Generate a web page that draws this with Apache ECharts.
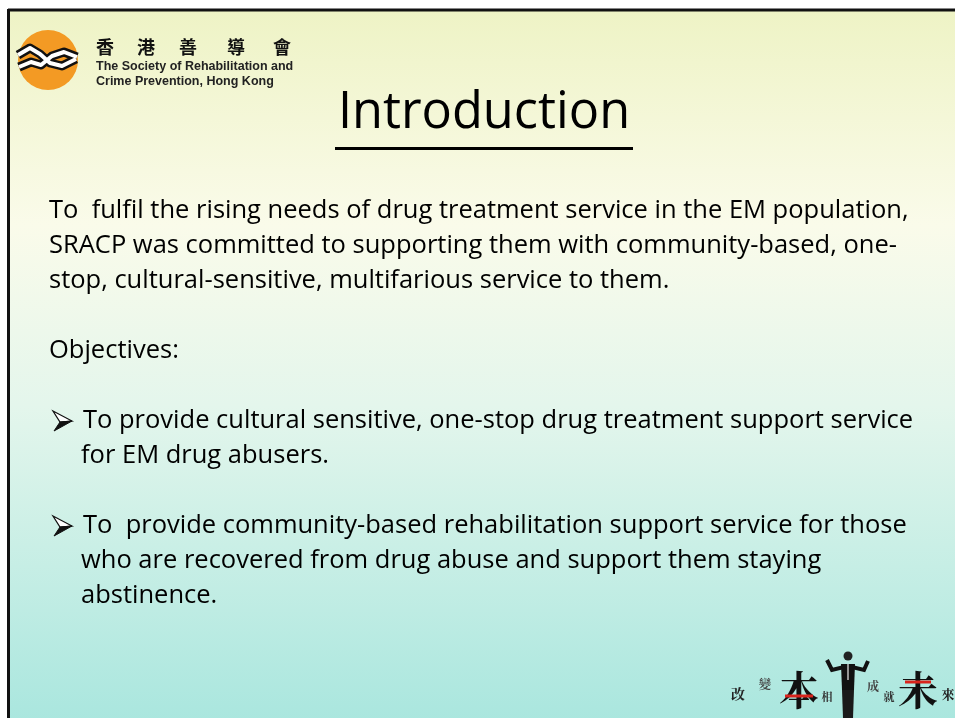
<!DOCTYPE html>
<html><head><meta charset="utf-8">
<script src="https://cdn.jsdelivr.net/npm/echarts@6/dist/echarts.min.js"></script>
<style>html,body{margin:0;padding:0;background:#fff}#c{width:955px;height:718px}</style>
</head><body><div id="c"></div>
<script>
var titleText = 'Introduction';
var orgNameZh = ['香', '港', '善', '導', '會'];
var orgNameEn = ['The Society of Rehabilitation and', 'Crime Prevention, Hong Kong'];
var introLines = [
  'To  fulfil the rising needs of drug treatment service in the EM population,',
  'SRACP was committed to supporting them with community-based, one-',
  'stop, cultural-sensitive, multifarious service to them.'
];
var objectivesLabel = 'Objectives:';
var bullet1Lines = ['To provide cultural sensitive, one-stop drug treatment support service', 'for EM drug abusers.'];
var bullet2Lines = ['To  provide community-based rehabilitation support service for those', 'who are recovered from drug abuse and support them staying', 'abstinence.'];
var sloganChars = ['改', '變', '本', '相', '成', '就', '未', '來'];

var chart = echarts.init(document.getElementById('c'), null, {renderer: 'canvas'});
var FONT = '"Open Sans", Lato, sans-serif';
var BODY = '25.5px ' + FONT;
var LH = 35;
var g = [];

// background slide
g.push({type: 'rect', shape: {x: 9, y: 9, width: 960, height: 720}, style: {
  fill: new echarts.graphic.LinearGradient(0, 0, 0, 1, [
    {offset: 0, color: '#eef3c5'}, {offset: 0.3, color: '#fafbea'},
    {offset: 0.55, color: '#e4f6ec'}, {offset: 1, color: '#a8e6de'}])
}, z: 0});
// border top & left
g.push({type: 'line', shape: {x1: 8, y1: 10, x2: 960, y2: 10}, style: {stroke: '#111', lineWidth: 3}, z: 2});
g.push({type: 'line', shape: {x1: 8.5, y1: 9, x2: 8.5, y2: 720}, style: {stroke: '#111', lineWidth: 3}, z: 2});

// logo
g.push({type: 'circle', shape: {cx: 48, cy: 60, r: 30}, style: {fill: '#f39a24'}, z: 3});
var chainA = [[18, 55], [30, 48], [40, 54], [50, 63], [62, 66], [76, 59]];
var chainB = [[19, 67], [31, 62], [41, 65], [52, 56], [64, 52], [77, 57]];
[chainA, chainB].forEach(function (pts) {
  g.push({type: 'polyline', shape: {points: pts}, style: {stroke: '#111', lineWidth: 9, fill: null, lineJoin: 'round'}, z: 4});
  g.push({type: 'polyline', shape: {points: pts}, style: {stroke: '#fff', lineWidth: 4, fill: null, lineJoin: 'round'}, z: 5});
});
var zhX = [105, 146, 188, 236, 282];
orgNameZh.forEach(function (ch, i) {
  g.push({type: 'text', style: {text: ch, x: zhX[i], y: 47, font: 'bold 18px "Noto Sans CJK TC"', fill: '#111', align: 'center', verticalAlign: 'middle'}, z: 5});
});
orgNameEn.forEach(function (t, i) {
  g.push({type: 'text', style: {text: t, x: 96, y: 67 + i * 15, font: 'bold 12.5px "Liberation Sans", Arial, sans-serif', fill: '#222', verticalAlign: 'middle'}, z: 5});
});

// title
g.push({type: 'text', style: {text: titleText, x: 484, y: 114, font: '50.5px ' + FONT, fill: '#000', align: 'center', verticalAlign: 'middle'}, z: 5});
g.push({type: 'line', shape: {x1: 335, y1: 148.5, x2: 633, y2: 148.5}, style: {stroke: '#000', lineWidth: 3}, z: 5});

function bodyText(t, x, y) {
  g.push({type: 'text', style: {text: t, x: x, y: y, font: BODY, fill: '#000', verticalAlign: 'middle'}, z: 5});
}
introLines.forEach(function (t, i) { bodyText(t, 49, 211 + i * LH); });
bodyText(objectivesLabel, 49, 211 + 4 * LH);

function arrow(x, y) {
  // upper (outlined) and lower (filled) halves of the ➢ bullet
  g.push({type: 'polygon', shape: {points: [[x, y - 10], [x + 19, y], [x + 7, y + 1]]}, style: {fill: '#fff', stroke: '#111', lineWidth: 1.2, lineJoin: 'miter'}, z: 5});
  g.push({type: 'polygon', shape: {points: [[x + 7, y + 1], [x + 19, y], [x + 1, y + 10]]}, style: {fill: '#111', stroke: '#111', lineWidth: 1}, z: 6});
}
var b1y = 211 + 6 * LH;
arrow(53, b1y);
bullet1Lines.forEach(function (t, i) { bodyText(t, i === 0 ? 83 : 81, b1y + i * LH); });
var b2y = b1y + 3 * LH;
arrow(53, b2y);
bullet2Lines.forEach(function (t, i) { bodyText(t, i === 0 ? 83 : 81, b2y + i * LH); });

// slogan
var sl = [
  {x: 738, y: 694, s: 14, c: '#222'}, {x: 765, y: 684, s: 12, c: '#444'},
  {x: 799, y: 690, s: 40, c: '#111'}, {x: 827, y: 697, s: 11, c: '#333'},
  {x: 873, y: 686, s: 12, c: '#444'}, {x: 889, y: 697, s: 11, c: '#333'},
  {x: 918, y: 690, s: 40, c: '#111'}, {x: 948, y: 694, s: 13, c: '#222'}
];
sloganChars.forEach(function (ch, i) {
  var p = sl[i];
  g.push({type: 'text', style: {text: ch, x: p.x, y: p.y, font: 'bold ' + p.s + 'px "Noto Serif CJK TC", "Noto Sans CJK TC"', fill: p.c, align: 'center', verticalAlign: 'middle'}, z: 5});
});
g.push({type: 'line', shape: {x1: 785, y1: 696, x2: 813, y2: 696}, style: {stroke: '#d9241c', lineWidth: 3}, z: 6});
g.push({type: 'line', shape: {x1: 905, y1: 682, x2: 931, y2: 682}, style: {stroke: '#d9241c', lineWidth: 3}, z: 6});
// man figure
g.push({type: 'circle', shape: {cx: 848, cy: 656, r: 4.5}, style: {fill: '#222'}, z: 6});
g.push({type: 'polyline', shape: {points: [[827, 660], [832, 670], [848, 666], [864, 670], [868, 661]]}, style: {stroke: '#111', lineWidth: 4, fill: null}, z: 6});
g.push({type: 'polygon', shape: {points: [[841, 664], [855, 664], [854, 690], [842, 690]]}, style: {fill: '#111'}, z: 6});
g.push({type: 'polygon', shape: {points: [[842, 690], [854, 690], [853, 718], [843, 718]]}, style: {fill: '#1a1a1a'}, z: 6});
g.push({type: 'line', shape: {x1: 848, y1: 664, x2: 848, y2: 680}, style: {stroke: '#eee', lineWidth: 1.2}, z: 7});

chart.setOption({animation: false, graphic: {elements: g}});
</script>
</body></html>
